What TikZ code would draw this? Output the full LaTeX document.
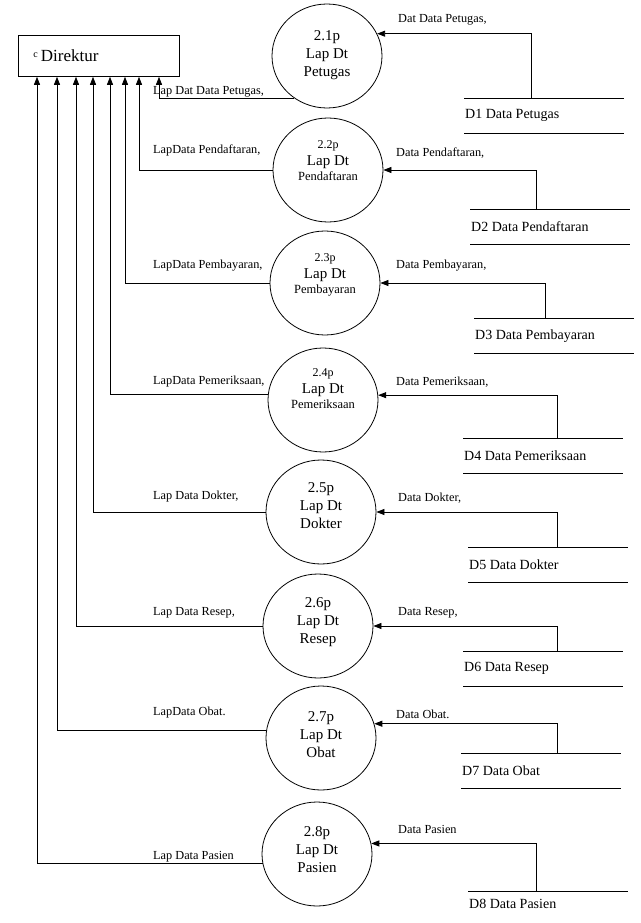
\documentclass[tikz,border=0pt]{standalone}
\usepackage{fontspec}
\setmainfont{Liberation Serif}
\usetikzlibrary{arrows.meta,shapes.geometric}
\begin{document}
\begin{tikzpicture}[x=1pt,y=-1pt,
  every node/.style={execute at begin node={\spaceskip=0pt\xspaceskip=0pt}},
  proc/.style={draw, ellipse, minimum width=110pt, minimum height=104pt, inner sep=0pt, line width=0.8pt},
  ptext/.style={align=center, font=\fontsize{15}{18}\selectfont, inner sep=0pt},
  flowlabel/.style={anchor=west, font=\fontsize{12.3}{14}\selectfont, inner sep=0pt},
  flow/.style={draw, line width=0.8pt, -{Triangle[length=8pt,width=6pt]}},
  store/.style={minimum width=160pt, minimum height=35pt, anchor=north west, text width=158pt, inner xsep=1pt, align=left, font=\fontsize{14}{16}\selectfont},
  storeline/.style={line width=0.8pt}]
\useasboundingbox (0,0) rectangle (640,923);

% external entity
\node[draw, line width=0.8pt, anchor=north west, minimum width=161pt, minimum height=41pt,
      text width=131pt, inner xsep=15pt, align=left, font=\fontsize{17}{19}\selectfont]
      (dir) at (18,35) {\raisebox{4pt}{\fontsize{10}{10}\selectfont c}\hspace{3pt}Direktur};

% processes
\node[proc] (c1) at (327,56) {};
\node[proc] (c2) at (328,170) {};
\node[proc] (c3) at (325,283) {};
\node[proc] (c4) at (323,400) {};
\node[proc] (c5) at (321,512) {};
\node[proc] (c6) at (318,626) {};
\node[proc] (c7) at (321,738) {};
\node[proc] (c8) at (317,854) {};

\node[ptext] (t1) at ([yshift=1pt]c1) {2.1p\\Lap Dt\\Petugas};
\node[ptext] (t2) at ([yshift=9pt]c2) {{\fontsize{12}{15}\selectfont 2.2p}\\[-1pt]Lap Dt\\[-3pt]{\fontsize{12.5}{15}\selectfont Pendaftaran}};
\node[ptext] (t3) at ([yshift=8pt]c3) {{\fontsize{12}{15}\selectfont 2.3p}\\[-1pt]Lap Dt\\[-3pt]{\fontsize{12.5}{15}\selectfont Pembayaran}};
\node[ptext] (t4) at ([yshift=11pt]c4) {{\fontsize{12}{15}\selectfont 2.4p}\\[-1pt]Lap Dt\\[-3pt]{\fontsize{12.5}{15}\selectfont Pemeriksaan}};
\node[ptext] (t5) at ([yshift=6pt]c5) {2.5p\\Lap Dt\\Dokter};
\node[ptext] (t6) at ([yshift=4pt]c6) {2.6p\\Lap Dt\\Resep};
\node[ptext] (t7) at ([yshift=3pt]c7) {2.7p\\Lap Dt\\Obat};
\node[ptext] (t8) at ([yshift=4pt]c8) {2.8p\\Lap Dt\\Pasien};

% data stores
\node[store] (d1) at (464,98) {D1 Data Petugas};
\node[store] (d2) at (470,209) {D2 Data Pendaftaran};
\node[store] (d3) at (474,318) {D3 Data Pembayaran};
\node[store] (d4) at (463,438) {D4 Data Pemeriksaan};
\node[store] (d5) at (468,547) {D5 Data Dokter};
\node[store] (d6) at (463,651) {D6 Data Resep};
\node[store] (d7) at (461,753) {D7 Data Obat};
\node[store, minimum height=26pt] (d8) at (468,891) {D8 Data Pasien};

\foreach \s in {d1,d2,d3,d4,d5,d6,d7}{
  \draw[storeline] (\s.north west) -- (\s.north east);
  \draw[storeline] (\s.south west) -- (\s.south east);
}
\draw[storeline] (d8.north west) -- (d8.north east);

% reports to the director
\draw[flow] (c1.232) -| ([xshift=141pt]dir.south west);
\draw[flow] (c2.west) -| ([xshift=121pt]dir.south west);
\draw[flow] (c3.west) -| ([xshift=107pt]dir.south west);
\draw[flow] (c4.174) -| ([xshift=92pt]dir.south west);
\draw[flow] (c5.west) -| ([xshift=75pt]dir.south west);
\draw[flow] (c6.west) -| ([xshift=58pt]dir.south west);
\draw[flow] (c7.172) -| ([xshift=39pt]dir.south west);
\draw[flow] (c8.190) -| ([xshift=19pt]dir.south west);

\node[flowlabel] (l1) at (153,92) {Lap Dat Data Petugas,};
\node[flowlabel] (l2) at (153,150) {LapData Pendaftaran,};
\node[flowlabel] (l3) at (153,266) {LapData Pembayaran,};
\node[flowlabel] (l4) at (153,382) {LapData Pemeriksaan,};
\node[flowlabel] (l5) at (153,497) {Lap Data Dokter,};
\node[flowlabel] (l6) at (153,613) {Lap Data Resep,};
\node[flowlabel] (l7) at (153,713) {LapData Obat.};
\node[flowlabel] (l8) at (153,857) {Lap Data Pasien};

% data read from the stores
\draw[flow] ([xshift=67pt]d1.north west) |- (c1.24);
\draw[flow] ([xshift=66pt]d2.north west) |- (c2.east);
\draw[flow] ([xshift=71pt]d3.north west) |- (c3.east);
\draw[flow] ([xshift=94pt]d4.north west) |- (c4.5);
\draw[flow] ([xshift=89pt]d5.north west) |- (c5.east);
\draw[flow] ([xshift=94pt]d6.north west) |- (c6.east);
\draw[flow] ([xshift=96pt]d7.north west) |- (c7.15);
\draw[flow] ([xshift=68pt]d8.north west) |- (c8.11);

\node[flowlabel] (r1) at (398,20) {Dat Data Petugas,};
\node[flowlabel] (r2) at (396,153) {Data Pendaftaran,};
\node[flowlabel] (r3) at (396,266) {Data Pembayaran,};
\node[flowlabel] (r4) at (396,382) {Data Pemeriksaan,};
\node[flowlabel] (r5) at (398,498) {Data Dokter,};
\node[flowlabel] (r6) at (398,613) {Data Resep,};
\node[flowlabel] (r7) at (396,714) {Data Obat.};
\node[flowlabel] (r8) at (398,829) {Data Pasien};
\end{tikzpicture}
\end{document}
